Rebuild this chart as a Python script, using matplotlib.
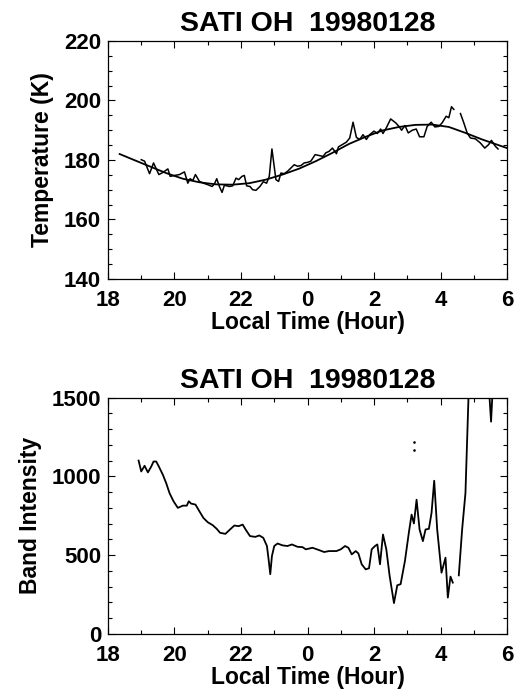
import numpy as np
import matplotlib
matplotlib.use("Agg")
import matplotlib.pyplot as plt
from matplotlib.ticker import MultipleLocator

plt.rcParams['font.family'] = ['Liberation Sans', 'DejaVu Sans']
plt.rcParams['font.weight'] = 'bold'

TITLE = "SATI OH  19980128"

# hours counted from 18 LT (24..30 = 0..6 next day)
tick_pos = [18, 20, 22, 24, 26, 28, 30]
tick_lab = ['18', '20', '22', '0', '2', '4', '6']

# rotational temperature (NaN = data gap)
temp_t = [19.00, 19.10, 19.25, 19.37, 19.53, 19.65, 19.80, 19.87, 20.00, 20.15,
          20.30, 20.40, 20.47, 20.55, 20.63, 20.75, 20.87, 21.00, 21.13, 21.20,
          21.27, 21.35, 21.43, 21.50, 21.65, 21.75, 21.85, 21.93, 22.03, 22.10,
          22.17, 22.27, 22.35, 22.45, 22.57, 22.67, 22.77, 22.85, 22.93, 23.05,
          23.13, 23.20, 23.30, 23.40, 23.50, 23.60, 23.70, 23.80, 23.90, 24.00,
          24.10, 24.23, 24.35, 24.47, 24.55, 24.65, 24.75, 24.87, 24.93, 25.05,
          25.17, 25.27, 25.37, 25.47, 25.57, 25.67, 25.77, 25.87, 26.00, 26.10,
          26.20, 26.27, 26.37, 26.50, 26.65, 26.75, 26.83, 26.93, 27.03, 27.15,
          27.27, 27.37, 27.50, 27.60, 27.72, 27.83, 27.95, 28.05, 28.17, 28.25,
          28.33, 28.40, 28.50, 28.60, 28.70, 28.80, 28.90, 29.05, 29.20, 29.33,
          29.45, 29.53, 29.65, 29.73]
temp_k = [180.1, 179.6, 175.4, 179.0, 175.1, 175.8, 177.0, 174.5, 174.8, 175.1,
          176.0, 172.2, 173.7, 173.1, 175.1, 172.8, 172.2, 171.7, 171.1, 171.9,
          173.7, 171.1, 169.1, 171.5, 171.1, 171.3, 173.9, 173.4, 174.5, 174.8,
          171.3, 171.1, 170.0, 169.8, 171.1, 172.7, 172.2, 174.5, 183.7, 173.4,
          172.8, 175.6, 175.4, 176.2, 177.3, 178.4, 177.9, 178.1, 179.0, 179.2,
          179.6, 181.8, 181.5, 181.2, 182.4, 182.9, 184.0, 182.1, 184.4, 185.2,
          186.0, 187.4, 192.7, 187.6, 186.9, 188.5, 186.9, 188.5, 189.7, 188.9,
          190.4, 188.9, 190.8, 193.8, 192.5, 191.3, 190.0, 191.6, 189.1, 190.0,
          190.4, 187.8, 187.8, 191.3, 192.7, 191.1, 191.3, 192.5, 194.7, 194.2,
          197.9, 197.0, np.nan, 195.6, 192.5, 189.1, 187.4, 187.1, 185.7, 184.0,
          185.2, 186.6, 184.6, 183.7]

# smooth fit
fit_t = [18.35, 19.00, 19.75, 20.25, 20.75, 21.25, 21.75, 22.25, 22.75, 23.25,
         23.75, 24.25, 24.75, 25.25, 25.75, 26.25, 26.75, 27.25, 27.75, 28.25,
         28.75, 29.25, 30.00]
fit_k = [182.0, 179.0, 175.6, 173.7, 172.5, 171.8, 171.7, 172.2, 173.4, 175.1,
         177.1, 179.6, 182.4, 185.4, 187.8, 189.9, 191.1, 191.8, 191.9, 191.1,
         189.1, 186.9, 184.0]

# band intensity
band_t = [18.92, 19.00, 19.10, 19.20, 19.30, 19.37, 19.45, 19.53, 19.65, 19.75,
          19.85, 19.97, 20.10, 20.25, 20.37, 20.43, 20.50, 20.63, 20.75, 20.87,
          21.00, 21.15, 21.27, 21.37, 21.53, 21.67, 21.80, 21.93, 22.05, 22.15,
          22.27, 22.43, 22.55, 22.67, 22.78, 22.83, 22.88, 22.93, 23.00, 23.10,
          23.25, 23.40, 23.53, 23.70, 23.85, 23.95, 24.15, 24.35, 24.50, 24.65,
          24.87, 25.00, 25.13, 25.23, 25.33, 25.45, 25.53, 25.63, 25.75, 25.85,
          25.93, 26.03, 26.10, 26.18, 26.27, 26.37, 26.47, 26.60, 26.70, 26.80,
          26.93, 27.05, 27.13, 27.20, 27.28, 27.37, 27.47, 27.55, 27.65, 27.73,
          27.81, 27.90, 28.03, 28.15, 28.22, 28.30, 28.37, 28.45, 28.55, 28.65,
          28.75, 28.85, 29.20, 29.45, 29.52, 29.58, 29.75]
band_i = [1100, 1031, 1067, 1025, 1062, 1094, 1094, 1062, 1010, 957,
          894, 842, 800, 814, 814, 842, 827, 821, 778, 736,
          709, 690, 667, 642, 635, 663, 688, 684, 694, 659,
          621, 616, 625, 610, 558, 473, 379, 494, 558, 574,
          562, 558, 568, 553, 551, 537, 547, 532, 520, 526,
          526, 537, 558, 547, 505, 526, 511, 442, 410, 417,
          537, 558, 568, 442, 631, 537, 368, 196, 309, 316,
          463, 646, 757, 701, 852, 663, 589, 663, 667, 768,
          972, 663, 389, 484, 231, 364, 326, np.nan, 372, 663,
          894, 1560, 2200, 1580, 1347, 1600, 2200]
# isolated points
dot_t = [27.21, 27.21]
dot_i = [1220, 1168]

fig = plt.figure(figsize=(5.15, 6.98), dpi=100)
ax1 = fig.add_axes([0.2097, 0.6003, 0.7748, 0.341])
ax2 = fig.add_axes([0.2097, 0.0917, 0.7748, 0.3388])

FS = 16
for ax in (ax1, ax2):
    ax.set_xlim(18, 30)
    ax.set_xticks(tick_pos)
    ax.set_xticklabels(tick_lab)
    ax.xaxis.set_minor_locator(MultipleLocator(1))
    ax.tick_params(which='both', direction='in', top=True, right=True,
                   labelsize=FS, width=0.8)
    ax.tick_params(which='major', length=5)
    ax.tick_params(which='minor', length=3)
    ax.tick_params(axis='x', pad=8)
    ax.tick_params(axis='y', pad=5)
    for s in ax.spines.values():
        s.set_linewidth(0.9)
    ax.set_xlabel('Local Time (Hour)', fontsize=16.5, fontweight='bold', labelpad=0)
    ax.set_title(TITLE, fontsize=20.5, fontweight='bold', pad=7)

ax1.plot(temp_t, temp_k, color='black', lw=1.1)
ax1.plot(fit_t, fit_k, color='black', lw=1.3)
ax1.set_ylim(140, 220)
ax1.set_yticks([140, 160, 180, 200, 220])
ax1.yaxis.set_minor_locator(MultipleLocator(5))
ax1.set_ylabel('Temperature (K)', fontsize=16.5, fontweight='bold', labelpad=7)

ax2.plot(band_t, band_i, color='black', lw=1.3)
ax2.plot(dot_t, dot_i, ls='none', marker='s', ms=0.8, color='black')
ax2.set_ylim(0, 1500)
ax2.set_yticks([0, 500, 1000, 1500])
ax2.yaxis.set_minor_locator(MultipleLocator(100))
ax2.set_ylabel('Band Intensity', fontsize=16.5, fontweight='bold', labelpad=7)

fig.savefig('out.png', dpi=100)
